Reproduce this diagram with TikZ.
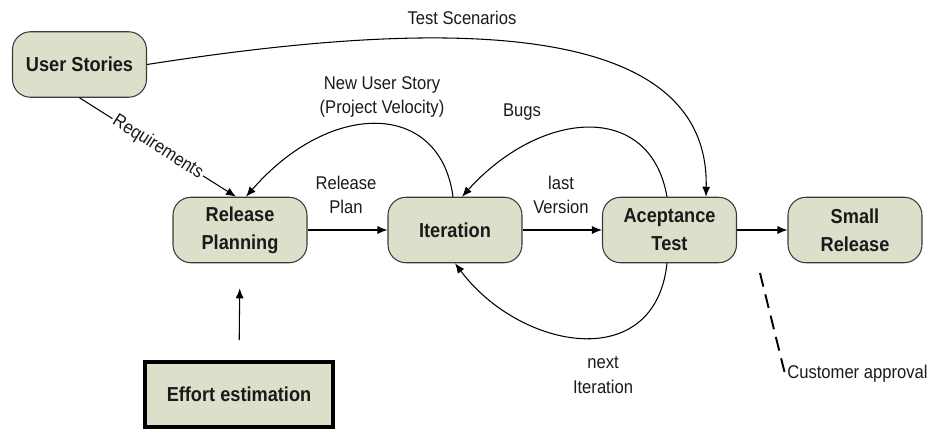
\documentclass[tikz,border=0pt]{standalone}
\usepackage{fontspec}
\setmainfont{Liberation Sans}[FakeStretch=0.9]
\usetikzlibrary{arrows.meta, positioning}
\definecolor{cfill}{HTML}{DDDFCB}
\definecolor{cline}{HTML}{3A3A3A}
\definecolor{ctext}{HTML}{1A1A1A}
\tikzset{
  every picture/.style={line width=0.6pt},
  phase/.style={draw=cline, fill=cfill, rounded corners=0.36cm, align=center, inner sep=0pt,
    minimum width=2.68cm, minimum height=1.31cm, text=ctext, font=\fontsize{11.5}{16}\selectfont\bfseries},
  inbox/.style={draw=black, fill=cfill, line width=2pt, inner sep=0pt,
    minimum width=3.76cm, minimum height=1.3cm, text=ctext, font=\fontsize{11.5}{16}\selectfont\bfseries},
  arrow/.style={-{Latex[length=2mm, width=1.6mm]}, draw=black},
  lbl/.style={font=\fontsize{10.5}{14}\selectfont, text=ctext, align=center, inner sep=1pt},
}

\begin{document}
\begin{tikzpicture}
  \useasboundingbox (0,0) rectangle (18.62,-8.6);
  % phases
  \node[phase] (us) at (1.59,-1.29) {User Stories};
  \node[phase] (rp) at (4.80,-4.60) {Release\\Planning};
  \node[phase] (it) at (9.10,-4.60) {Iteration};
  \node[phase] (at) at (13.39,-4.60) {Aceptance\\Test};
  \node[phase] (sr) at (17.10,-4.60) {Small\\Release};
  \node[inbox] (ef) at (4.78,-7.89) {Effort estimation};
  % straight flow
  \draw[arrow] (us.south) -- node[lbl, sloped, fill=white] (lreq) {Requirements} ([xshift=-0.08cm]rp.north);
  \draw[arrow] (rp.east) -- (it.west);
  \node[lbl] (lrp) at (6.92,-3.9) {Release\\Plan};
  \draw[arrow] (it.east) -- (at.west);
  \node[lbl] (llv) at (11.22,-3.9) {last\\Version};
  \draw[arrow] (at.east) -- (sr.west);
  \draw[arrow, shorten <=0.4cm, shorten >=0.5cm] (ef.north) -- (rp.south);
  % feedback loops
  \draw[arrow] (us.east) .. controls (8.0,-0.5) and (14.2,-0.1) .. ([xshift=0.73cm]at.north);
  \node[lbl] (lts) at (9.24,-0.36) {Test Scenarios};
  \draw[arrow] ([xshift=-0.04cm]it.north) .. controls (8.8,-2.0) and (6.6,-2.0) .. ([xshift=0.12cm]rp.north);
  \node[lbl] (lnus) at (7.64,-1.94) {New User Story\\(Project Velocity)};
  \draw[arrow] ([xshift=-0.05cm]at.north) .. controls (13.0,-2.0) and (10.8,-2.2) .. ([xshift=0.14cm]it.north);
  \node[lbl] (lbug) at (10.44,-2.24) {Bugs};
  \draw[arrow] ([xshift=-0.05cm]at.south) .. controls (13.1,-7.5) and (10.4,-7.0) .. (it.south);
  \node[lbl] (lni) at (12.06,-7.5) {next\\Iteration};
  % customer approval
  \coordinate (cap) at (15.2,-5.46);
  \node[lbl, anchor=west] (lca) at (15.70,-7.48) {Customer approval};
  \draw[line width=1.1pt, dash pattern=on 8pt off 4.5pt] (cap) -- (lca.west);
\end{tikzpicture}
\end{document}
